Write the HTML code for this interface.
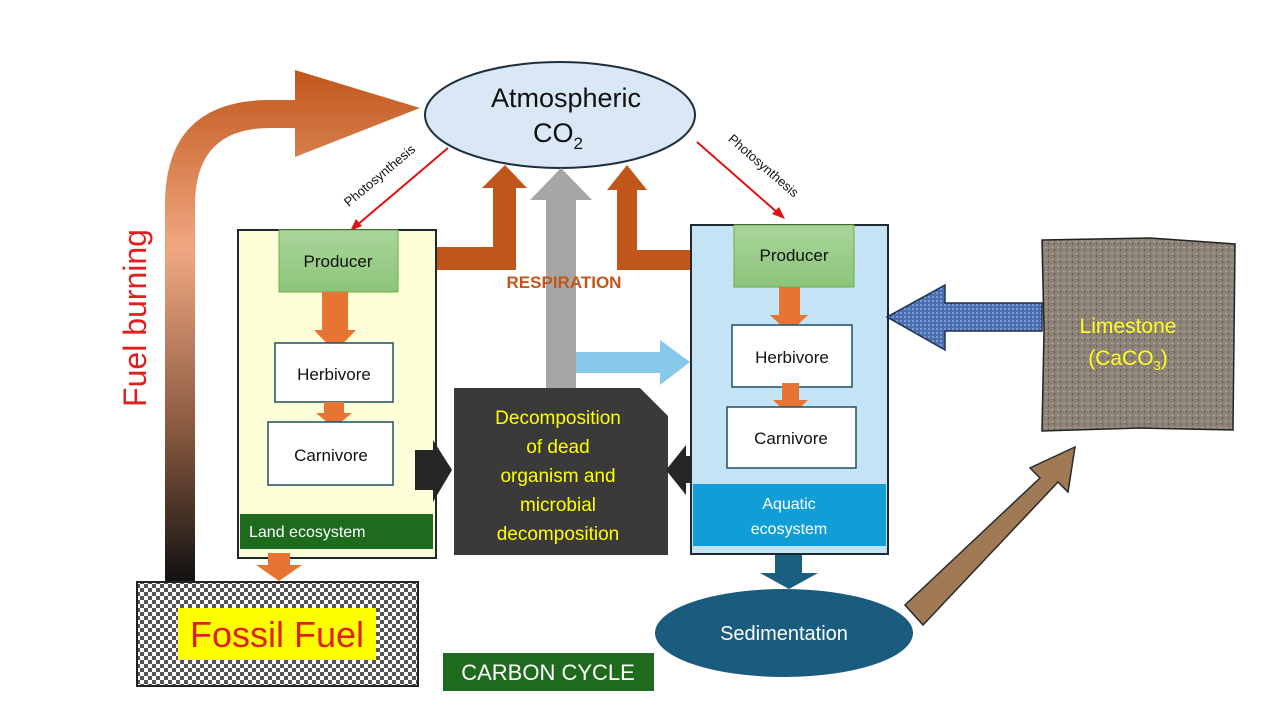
<!DOCTYPE html>
<html><head><meta charset="utf-8"><style>
html,body{margin:0;padding:0;background:#fff}
svg{display:block;font-family:"Liberation Sans",sans-serif}
</style></head><body>
<svg width="1280" height="720" viewBox="0 0 1280 720">
<defs>
<linearGradient id="fb" x1="0" y1="1" x2="0" y2="0">
<stop offset="0" stop-color="#111"/>
<stop offset="0.3" stop-color="#8a5a40"/>
<stop offset="0.65" stop-color="#f0a882"/>
<stop offset="1" stop-color="#c0561a"/>
</linearGradient>
<linearGradient id="fbh" x1="0" y1="0" x2="1" y2="0">
<stop offset="0" stop-color="#d67a40"/><stop offset="1" stop-color="#c0561a"/>
</linearGradient>
<pattern id="chk" width="8" height="8" patternUnits="userSpaceOnUse">
<rect width="8" height="8" fill="#fff"/><rect width="4" height="4" fill="#555"/><rect x="4" y="4" width="4" height="4" fill="#555"/>
</pattern>
<pattern id="rock" width="6" height="6" patternUnits="userSpaceOnUse">
<rect width="6" height="6" fill="#8d8276"/><rect x="1" y="1" width="2" height="1" fill="#b6ab9f"/><rect x="4" y="3" width="1" height="2" fill="#5f564d"/>
</pattern>
<pattern id="blu" width="4" height="4" patternUnits="userSpaceOnUse">
<rect width="4" height="4" fill="#4a6fb0"/><rect width="2" height="2" fill="#7f9bd0"/>
</pattern>
<linearGradient id="prod" x1="0" y1="0" x2="0" y2="1"><stop offset="0" stop-color="#a9d69a"/><stop offset="1" stop-color="#8cc47a"/></linearGradient>
</defs>

<!-- Fuel burning arrow -->
<path d="M165,582 L165,205 Q165,100 270,100 L295,100 L295,70 L420,108 L295,157 L295,128 L270,128 Q195,128 195,205 L195,582 Z" fill="url(#fb)"/>
<text x="0" y="0" transform="translate(146,318) rotate(-90)" text-anchor="middle" font-size="32" fill="#e02020">Fuel burning</text>

<!-- Atmospheric CO2 -->
<ellipse cx="560" cy="115" rx="135" ry="53" fill="#dae8f5" stroke="#1c3040" stroke-width="2"/>
<text x="566" y="107" text-anchor="middle" font-size="27" fill="#111">Atmospheric</text>
<text x="558" y="142" text-anchor="middle" font-size="27" fill="#111">CO<tspan font-size="17" dy="7">2</tspan></text>

<!-- photosynthesis arrows -->
<line x1="448" y1="148" x2="356" y2="226" stroke="#e01010" stroke-width="2"/>
<polygon points="350,231 356,219 362,226" fill="#e01010"/>
<text transform="translate(385,182) rotate(-40)" text-anchor="middle" font-size="13" fill="#111" y="-4">Photosynthesis</text>
<line x1="697" y1="142" x2="779" y2="214" stroke="#e01010" stroke-width="2"/>
<polygon points="785,219 772,214 779,207" fill="#e01010"/>
<text transform="translate(758,172) rotate(41)" text-anchor="middle" font-size="13" fill="#111" y="-4">Photosynthesis</text>

<!-- respiration arrows -->
<polygon points="436,247 493,247 493,188 482,188 505,165 527,188 516,188 516,270 436,270" fill="#c0561a"/>
<polygon points="546,388 546,200 530,200 561,168 592,200 576,200 576,388" fill="#a6a6a6"/>
<polygon points="690,250 637,250 637,190 647,190 627,165 607,190 617,190 617,270 690,270" fill="#c0561a"/>
<text x="564" y="288" text-anchor="middle" font-size="17" font-weight="bold" fill="#c0561a">RESPIRATION</text>

<!-- light blue arrow -->
<polygon points="576,352 660,352 660,340 690,362 660,385 660,373 576,373" fill="#88c9ea"/>

<!-- Land box -->
<rect x="238" y="230" width="198" height="328" fill="#fdfed8" stroke="#1c2a30" stroke-width="2"/>
<rect x="279" y="230" width="119" height="62" fill="url(#prod)" stroke="#70ad47"/>
<text x="338" y="267" text-anchor="middle" font-size="17" fill="#111">Producer</text>
<polygon points="322,292 348,292 348,330 356,330 335,352 314,330 322,330" fill="#e87433"/>
<rect x="275" y="343" width="118" height="59" fill="#fff" stroke="#1e4e66" stroke-width="1.5"/>
<text x="334" y="380" text-anchor="middle" font-size="17" fill="#111">Herbivore</text>
<polygon points="324,402 344,402 344,413 352,413 334,428 316,413 324,413" fill="#e87433"/>
<rect x="268" y="422" width="125" height="63" fill="#fff" stroke="#1e4e66" stroke-width="1.5"/>
<text x="331" y="461" text-anchor="middle" font-size="17" fill="#111">Carnivore</text>
<rect x="240" y="514" width="193" height="35" fill="#1e6b1e"/>
<text x="249" y="537" font-size="16" fill="#fff">Land ecosystem</text>
<polygon points="268,553 290,553 290,565 302,565 279,581 256,565 268,565" fill="#e87433"/>

<!-- Fossil fuel -->
<rect x="137" y="582" width="281" height="104" fill="url(#chk)" stroke="#222" stroke-width="2"/>
<rect x="178" y="608" width="198" height="52" fill="#ffff00"/>
<text x="277" y="647" text-anchor="middle" font-size="36" fill="#e02020">Fossil Fuel</text>

<!-- Decomposition -->
<polygon points="454,388 640,388 668,416 668,555 454,555" fill="#3a3a3a"/>
<g font-size="19" fill="#ffff00" text-anchor="middle">
<text x="558" y="424">Decomposition</text>
<text x="558" y="453">of dead</text>
<text x="558" y="482">organism and</text>
<text x="558" y="511">microbial</text>
<text x="558" y="540">decomposition</text>
</g>
<polygon points="415,450 433,450 433,440 452,470 433,502 433,490 415,490" fill="#262626"/>
<polygon points="704,456 686,456 686,445 666,470 686,495 686,483 704,483" fill="#262626"/>

<!-- Aquatic -->
<rect x="691" y="225" width="197" height="329" fill="#c4e3f5" stroke="#1c2a30" stroke-width="2"/>
<rect x="734" y="225" width="120" height="62" fill="url(#prod)" stroke="#70ad47"/>
<text x="794" y="261" text-anchor="middle" font-size="17" fill="#111">Producer</text>
<polygon points="779,287 800,287 800,315 808,315 789,333 770,315 779,315" fill="#e87433"/>
<rect x="732" y="325" width="120" height="62" fill="#fff" stroke="#1e4e66" stroke-width="1.5"/>
<text x="792" y="363" text-anchor="middle" font-size="17" fill="#111">Herbivore</text>
<polygon points="782,383 799,383 799,400 808,400 791,417 773,400 782,400" fill="#e87433"/>
<rect x="727" y="407" width="129" height="61" fill="#fff" stroke="#1e4e66" stroke-width="1.5"/>
<text x="791" y="444" text-anchor="middle" font-size="17" fill="#111">Carnivore</text>
<rect x="693" y="484" width="193" height="62" fill="#119ed6"/>
<text x="789" y="509" text-anchor="middle" font-size="16" fill="#fff">Aquatic</text>
<text x="789" y="534" text-anchor="middle" font-size="16" fill="#fff">ecosystem</text>

<polygon points="775,555 802,555 802,573 818,573 789,589 760,573 775,573" fill="#1a5f80"/>
<ellipse cx="784" cy="633" rx="129" ry="44" fill="#1a5c7e"/>
<text x="784" y="640" text-anchor="middle" font-size="20" fill="#fff">Sedimentation</text>

<!-- brown diagonal -->
<polygon points="905,605 1040,478 1030,468 1075,447 1068,492 1058,482 923,625" fill="#a07a55" stroke="#2a2a2a" stroke-width="1.5"/>

<!-- Limestone -->
<polygon points="1042,240 1150,238 1235,244 1233,430 1140,428 1042,431 1044,330" fill="url(#rock)" stroke="#222" stroke-width="1.5"/>
<text x="1128" y="333" text-anchor="middle" font-size="21" fill="#ffff20">Limestone</text>
<text x="1128" y="365" text-anchor="middle" font-size="21" fill="#ffff20">(CaCO<tspan font-size="13" dy="5">3</tspan><tspan dy="-5">)</tspan></text>

<polygon points="1042,303 1042,331 945,331 945,350 887,317 945,285 945,303" fill="url(#blu)" stroke="#1e3050" stroke-width="1.5"/>

<!-- Carbon cycle label -->
<rect x="443" y="653" width="211" height="38" fill="#1e6b1e"/>
<text x="548" y="680" text-anchor="middle" font-size="22" fill="#fff">CARBON CYCLE</text>
</svg>
</body></html>
